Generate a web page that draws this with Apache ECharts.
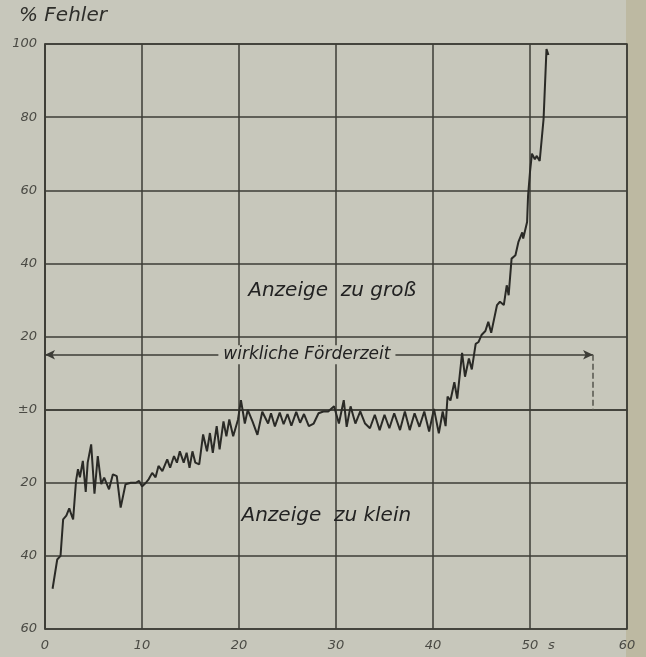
<!DOCTYPE html>
<html>
<head>
<meta charset="utf-8">
<script src="https://cdn.jsdelivr.net/npm/echarts@6/dist/echarts.min.js"></script>
<style>
html,body{margin:0;padding:0;background:#c7c7bb;}
#chart{width:646px;height:657px;}
</style>
</head>
<body>
<div id="chart"></div>
<script>
// --- data ---
const timeS = [
  0.78,1.26,1.46,1.6,1.87,2.2,2.5,2.7,2.9,3.2,3.4,3.6,3.9,4.2,4.4,4.76,5.1,5.44,5.8,6.1,
  6.6,7.0,7.4,7.8,8.3,8.85,9.36,9.7,10.0,10.4,10.7,11.05,11.4,11.7,12.1,12.6,12.9,13.3,13.6,13.9,
  14.3,14.6,14.9,15.2,15.5,15.9,16.3,16.7,17.0,17.3,17.7,18.0,18.4,18.7,19.0,19.4,19.9,
  20.2,20.6,20.9,21.4,21.9,22.4,23.0,23.3,23.7,24.2,24.6,25.0,25.4,25.9,26.3,26.7,27.2,27.7,
  28.2,28.7,29.2,29.8,30.3,30.8,31.1,31.5,32.0,32.5,33.0,33.5,34.0,34.5,35.0,35.5,36.0,36.6,
  37.1,37.6,38.1,38.6,39.1,39.6,40.1,40.6,
  41.0,41.3,41.5,41.8,42.2,42.5,42.9,43.0,43.3,43.7,44.0,44.4,44.7,45.0,45.4,45.7,46.0,46.6,
  46.9,47.3,47.6,47.8,48.1,48.5,48.8,49.2,49.3,49.7,49.8,50.0,50.2,50.5,50.7,51.0,51.4,51.7,51.9
];
const fehlerPct = [
  -49,-41,-41,-40,-30,-29,-27,-28.6,-30,-19.5,-16.3,-18.5,-14,-22.5,-14.5,-9.5,-23,-12.7,-20.4,-18.6,
  -21.8,-17.7,-18.2,-26.8,-20.4,-20,-20,-19.5,-21,-20,-19,-17.3,-18.5,-15.4,-16.8,-13.6,-15.9,-12.7,-14.5,-11.4,
  -14.5,-11.8,-15.9,-11.4,-14.5,-15,-6.8,-11.4,-6.4,-11.8,-4.5,-10.9,-3.2,-7.3,-2.7,-7.3,-2.7,
  2.6,-3.8,-0.1,-3.3,-6.9,-0.6,-3.8,-1,-4.6,-0.8,-4.0,-1.2,-4.4,-0.6,-3.6,-1.2,-4.5,-3.8,
  -1,-0.5,-0.5,0.9,-3.8,2.6,-4.7,0.9,-3.8,-0.5,-3.8,-5.1,-1.4,-5.6,-1.4,-5.1,-1,-5.6,
  -0.5,-5.6,-1,-4.7,-0.5,-6,0.2,-6.5,
  -0.5,-4.5,3.6,2.5,7.5,3,13,15.5,9,14,11,18,18.5,20.4,21.5,24,21,28.6,
  29.5,28.6,34,31.3,41.3,42.2,45.8,48.5,46.8,51.3,58.5,65,70,68.5,69.4,68,79.5,98.6,97
];
const xTicks = [0,10,20,30,40,50,60];
const yTicks = [100,80,60,40,20,0,-20,-40,-60];
const axisTitle = '% Fehler';
const unitLabel = 's';
const textAbove = 'Anzeige  zu groß';
const textBelow = 'Anzeige  zu klein';
const spanLabel = 'wirkliche Förderzeit';
const spanEnd = 56.5;     // s, end of real conveying time
const spanLevel = 15;     // % level of the arrow line
const textAbovePos = [29.6, 32.5];
const textBelowPos = [29.0, -29];
const spanLabelPos = [27.0, 15];
const unitPos = [52.2, -60];

const paper = '#c7c7bb';
const ink = '#3c3c36';
const chart = echarts.init(document.getElementById('chart'), null, {renderer:'canvas'});
const seriesData = timeS.map((t,i)=>[t, fehlerPct[i]]);
const lbl = {fontFamily:'DejaVu Sans', fontStyle:'italic', color:'#4a4a44', fontSize:13};

chart.setOption({
  backgroundColor: paper,
  animation: false,
  graphic: [
    {type:'rect', right:0, top:0, shape:{width:20, height:657}, style:{fill:'#bdb9a2'}, z:-10},
    {type:'text', left:19, top:6, style:{text:axisTitle, font:'italic 20px "DejaVu Sans"', fill:'#2e2e2a'}}
  ],
  grid: {left:45, right:19, top:44, bottom:28, show:true, borderColor:ink, borderWidth:1.5, backgroundColor:'transparent'},
  xAxis: {
    type:'value', min:xTicks[0], max:xTicks[xTicks.length-1], interval:10,
    axisLine:{show:true, lineStyle:{color:ink, width:1.5}},
    axisTick:{show:false},
    splitLine:{show:true, lineStyle:{color:ink, width:1.5}},
    axisLabel:Object.assign({margin:10}, lbl)
  },
  yAxis: {
    type:'value', min:yTicks[yTicks.length-1], max:yTicks[0], interval:20,
    axisLine:{show:true, onZero:false, lineStyle:{color:ink, width:1.5}},
    axisTick:{show:false},
    splitLine:{show:true, lineStyle:{color:ink, width:1.5}},
    axisLabel:Object.assign({margin:8, formatter:v => v===0 ? '±0' : String(Math.abs(v))}, lbl)
  },
  series: [{
    type:'line', data:seriesData, symbol:'none', smooth:false,
    lineStyle:{color:'#2a2a26', width:2},
    z:5,
    markLine: {
      silent:true, animation:false, z:3,
      label:{show:false},
      data: [
        [
          {coord:[0, spanLevel], symbol:'arrow', symbolSize:[7,10], lineStyle:{color:ink, width:1.5, type:'solid'}},
          {coord:[spanEnd, spanLevel], symbol:'arrow', symbolSize:[7,10]}
        ],
        [
          {coord:[spanEnd, spanLevel], symbol:'none', lineStyle:{color:'#55554d', width:1.5, type:'dashed'}},
          {coord:[spanEnd, 0], symbol:'none'}
        ]
      ]
    },
    markPoint: {
      silent:true, symbol:'circle', symbolSize:0, z:4,
      label:{show:true, position:'inside', formatter:p=>p.name, fontFamily:'DejaVu Sans', fontStyle:'italic', fontSize:20, color:'#222'},
      data: [
        {name:textAbove, coord:textAbovePos},
        {name:textBelow, coord:textBelowPos},
        {name:spanLabel, coord:spanLabelPos, label:{fontSize:17, backgroundColor:paper, padding:[1,5]}},
        {name:unitLabel, coord:unitPos, label:{offset:[0,17], fontSize:13, color:'#4a4a44'}}
      ]
    }
  }]
});
</script>
</body>
</html>
